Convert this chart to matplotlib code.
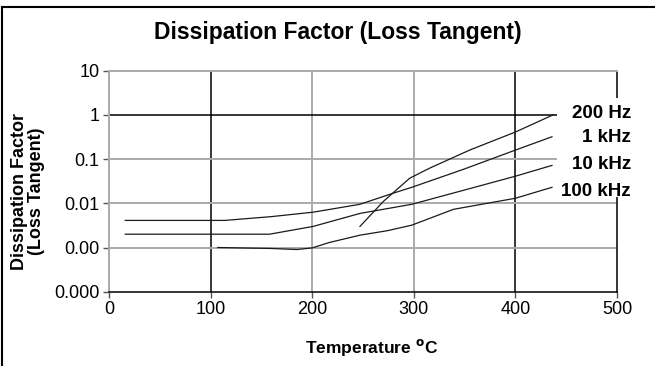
import matplotlib
matplotlib.use('Agg')
import matplotlib.pyplot as plt
from matplotlib.lines import Line2D
from matplotlib.patches import Rectangle
from matplotlib.ticker import FixedLocator, FixedFormatter, NullLocator

plt.rcParams['font.family'] = ['Liberation Sans', 'DejaVu Sans']

# temperature (deg C) and dissipation factor for each frequency
t_200hz = [247, 270, 296, 316, 355, 400, 437]
df_200hz = [0.003, 0.011, 0.037, 0.063, 0.16, 0.41, 1.0]

t_1khz = [16, 114, 160, 201, 247, 280, 298, 350, 400, 436]
df_1khz = [0.0041, 0.0041, 0.005, 0.0063, 0.0095, 0.017, 0.023, 0.06, 0.16, 0.32]

t_10khz = [16, 158, 201, 217, 247, 298, 350, 400, 436]
df_10khz = [0.002, 0.002, 0.003, 0.0038, 0.0059, 0.0095, 0.02, 0.041, 0.072]

t_100khz = [107, 160, 185, 200, 217, 247, 274, 298, 339, 400, 436]
df_100khz = [0.001, 0.00095, 0.0009, 0.00098, 0.0013, 0.0019, 0.0024, 0.0032, 0.0073, 0.013, 0.023]

series_labels = ['200 Hz', '1 kHz', '10 kHz', '100 kHz']

x_ticks = [0, 100, 200, 300, 400, 500]
y_ticks = [0.0001, 0.001, 0.01, 0.1, 1, 10]
y_tick_labels = ['0.000', '0.00', '0.01', '0.1', '1', '10']

fig = plt.figure(figsize=(6.55, 3.66), dpi=100)
ax = fig.add_axes([109 / 655, 1 - 291.7 / 366, 508 / 655, 221 / 366])

ax.set_xlim(0, 500)
ax.set_yscale('log')
ax.set_ylim(1e-4, 10)

gray = '#aaaaaa'
# grid lines, some black some gray like the scanned original
for x, c in zip([100, 200, 300, 400], ['black', gray, gray, 'black']):
    ax.axvline(x, color=c, lw=1.4 if c == gray else 1.1, zorder=1)
for y, c in zip([1, 0.1, 0.01, 0.001], ['black', gray, gray, gray]):
    ax.axhline(y, color=c, lw=1.4 if c == gray else 1.1, zorder=1)

for t, d in [(t_200hz, df_200hz), (t_1khz, df_1khz), (t_10khz, df_10khz), (t_100khz, df_100khz)]:
    ax.plot(t, d, color='#1a1a1a', lw=0.9, zorder=2)

for side, c in [('left', gray), ('top', gray), ('right', 'black'), ('bottom', 'black')]:
    ax.spines[side].set_color(c)
    ax.spines[side].set_linewidth(1.4 if c == gray else 1.1)

ax.yaxis.set_major_locator(FixedLocator(y_ticks))
ax.yaxis.set_major_formatter(FixedFormatter(y_tick_labels))
ax.yaxis.set_minor_locator(NullLocator())
ax.set_xticks(x_ticks)
ax.tick_params(axis='both', labelsize=13, length=4, width=1, pad=3, color='#555555')

# white box behind the curve labels (hides the right edge there)
ax.add_patch(Rectangle((557 / 655, 1 - 197 / 366), 85 / 655, 99 / 366, transform=fig.transFigure,
                       facecolor='white', edgecolor='none', zorder=3, clip_on=False))
label_y = [113, 138, 164, 192]
for lab, py in zip(series_labels, label_y):
    fig.text(631 / 655, 1 - py / 366, lab, ha='right', va='center', fontsize=13.5,
             fontweight='bold', zorder=4)

fig.text(338 / 655, 1 - 33 / 366, 'Dissipation Factor (Loss Tangent)', ha='center', va='center',
         fontsize=16.5, fontweight='bold')
fig.text(372 / 655, 1 - 348 / 366, 'Temperature $^{\\mathbf{o}}$C', ha='center', va='center',
         fontsize=12.5, fontweight='bold')
fig.text(28 / 655, 1 - 191 / 366, 'Dissipation Factor\n(Loss Tangent)', ha='center', va='center',
         rotation=90, fontsize=13, fontweight='bold', linespacing=1.0)

# page frame (top and left edges only)
fig.add_artist(Line2D([2 / 655, 1], [1 - 7 / 366, 1 - 7 / 366], transform=fig.transFigure, color='black', lw=1.5))
fig.add_artist(Line2D([2 / 655, 2 / 655], [0, 1 - 7 / 366], transform=fig.transFigure, color='black', lw=1.5))

fig.savefig('out.png', dpi=100)
